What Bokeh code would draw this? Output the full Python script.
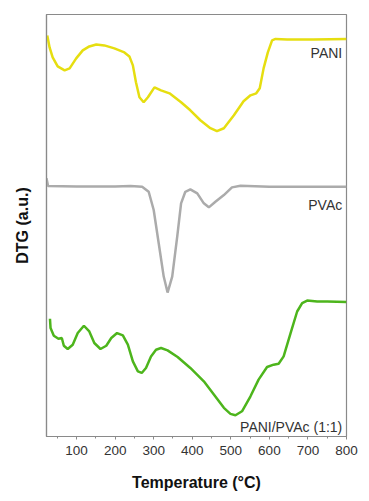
from bokeh.plotting import figure
from bokeh.models import Range1d, SingleIntervalTicker, FixedTicker, Label
from bokeh.embed import file_html
from bokeh.resources import INLINE

# Temperature (°C) and DTG (a.u., arbitrary offsets per curve)
pani_t = [24, 30, 38, 51, 69, 82, 99, 116, 133, 151, 172, 198, 224, 237, 246, 254, 263, 274, 285, 302, 319, 341, 371, 395, 421, 447, 464, 482, 508, 533, 551, 566, 575, 585, 596, 607, 616, 646, 715, 800]
pani_y = [402, 390, 380, 371, 367, 369, 379, 387, 391, 393, 392, 389, 385, 381, 372, 355, 340, 335, 340, 350, 347, 344, 335, 327, 317, 309, 306, 309, 322, 336, 342, 344, 349, 369, 385, 397, 398.5, 398, 398, 398.5]

pvac_t = [22, 26, 100, 200, 240, 270, 287, 300, 313, 326, 336, 348, 361, 371, 382, 395, 413, 430, 443, 460, 482, 503, 525, 600, 700, 800]
pvac_y = [259, 251, 250.5, 250.5, 251, 250.3, 245.3, 227, 193.7, 160.3, 144.3, 160.3, 200.3, 233.7, 245.3, 247.7, 243.7, 233.7, 229.7, 235.3, 242, 249.7, 251.3, 250.3, 250.3, 250.3]

blend_t = [31, 32.5, 41, 53, 61.7, 67, 77, 90, 103, 119, 133, 146, 162, 177, 190, 205, 220, 233, 246, 259, 269, 280, 293, 306, 319, 336, 362, 395, 430, 456, 482, 499, 512, 529, 551, 572, 594, 611, 624, 637, 655, 672, 685, 698, 724, 750, 800]
blend_y = [118, 108.7, 101, 98, 98.7, 91, 87.7, 92, 103.7, 111, 105.3, 93.7, 87.7, 91, 98.7, 103.7, 101.3, 92, 75.3, 65.3, 63.7, 68.7, 80.3, 87, 88.7, 86.3, 79.7, 68.7, 55.3, 42, 28.7, 22.7, 21.3, 25.3, 40.3, 57, 69.7, 72, 73, 80.3, 103.7, 125.3, 133.7, 136.3, 135.3, 135.3, 134.7]

x_ticks_interval = 100
labels = ["PANI", "PVAc", "PANI/PVAc (1:1)"]
label_y = [384, 232, 10]

p = figure(width=361, height=493, output_backend="svg", toolbar_location=None,
           x_range=Range1d(22, 800), y_range=Range1d(0, 423),
           min_border_left=46, min_border_right=15, min_border_top=14, min_border_bottom=56)
p.grid.visible = False
p.outline_line_color = "#8a8a8a"
p.outline_line_width = 1.2

p.line(pani_t, pani_y, line_color="#e6de10", line_width=2.5)
p.line(pvac_t, pvac_y, line_color="#ababab", line_width=2.5)
p.line(blend_t, blend_y, line_color="#4db51c", line_width=2.5)

for txt, yy in zip(labels, label_y):
    p.add_layout(Label(x=789, y=yy, text=txt, text_align="right", text_baseline="middle",
                       text_font="Liberation Sans", text_font_size="14px", text_color="#333333"))

xa = p.xaxis[0]
xa.ticker = SingleIntervalTicker(interval=x_ticks_interval, num_minor_ticks=2)
xa.axis_line_color = "#8a8a8a"
xa.axis_line_width = 1.2
xa.major_tick_line_color = "#8a8a8a"
xa.minor_tick_line_color = "#8a8a8a"
xa.major_tick_out = 3
xa.major_tick_in = 0
xa.minor_tick_out = 2
xa.minor_tick_in = 0
xa.major_label_text_font = "Liberation Sans"
xa.major_label_text_font_size = "13.5px"
xa.major_label_text_color = "#333333"
xa.major_label_standoff = 6
xa.axis_label = "Temperature (°C)"
xa.axis_label_text_font = "Liberation Sans"
xa.axis_label_text_font_style = "bold"
xa.axis_label_text_font_size = "16px"
xa.axis_label_text_color = "#111111"
xa.axis_label_standoff = 16

ya = p.yaxis[0]
ya.ticker = FixedTicker(ticks=[])
ya.axis_line_color = "#8a8a8a"
ya.axis_line_width = 1.2
ya.axis_label = "DTG (a.u.)"
ya.axis_label_text_font = "Liberation Sans"
ya.axis_label_text_font_style = "bold"
ya.axis_label_text_font_size = "16px"
ya.axis_label_text_color = "#111111"
ya.axis_label_standoff = 16

open("out.html", "w").write(file_html(p, INLINE))
